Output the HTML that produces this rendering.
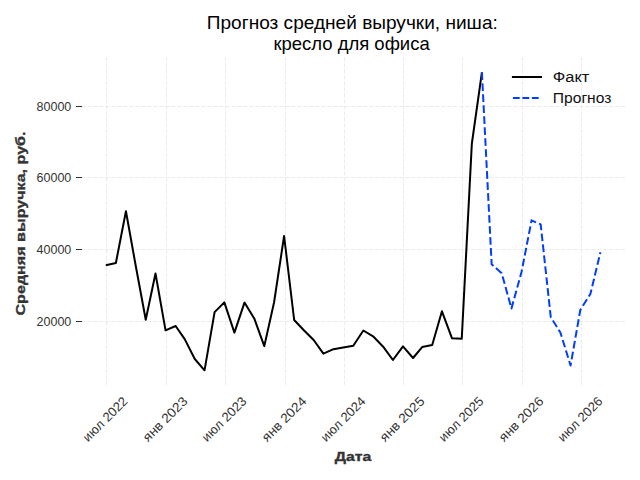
<!DOCTYPE html>
<html><head><meta charset="utf-8"><style>
html,body{margin:0;padding:0;background:#fff;}
svg{display:block;}
text{font-family:"Liberation Sans", sans-serif;}
</style></head><body>
<svg width="640" height="480" viewBox="0 0 640 480">
<rect width="640" height="480" fill="#fff"/>
<g stroke="#e4e4e4" stroke-width="0.75" stroke-dasharray="4 2" fill="none">
<line x1="106.5" y1="57.3" x2="106.5" y2="385.2"/>
<line x1="166.5" y1="57.3" x2="166.5" y2="385.2"/>
<line x1="225.5" y1="57.3" x2="225.5" y2="385.2"/>
<line x1="285.5" y1="57.3" x2="285.5" y2="385.2"/>
<line x1="344.5" y1="57.3" x2="344.5" y2="385.2"/>
<line x1="403.5" y1="57.3" x2="403.5" y2="385.2"/>
<line x1="462.5" y1="57.3" x2="462.5" y2="385.2"/>
<line x1="522.5" y1="57.3" x2="522.5" y2="385.2"/>
<line x1="581.5" y1="57.3" x2="581.5" y2="385.2"/>
<line x1="81.3" y1="106.5" x2="625.1" y2="106.5"/>
<line x1="81.3" y1="177.5" x2="625.1" y2="177.5"/>
<line x1="81.3" y1="249.5" x2="625.1" y2="249.5"/>
<line x1="81.3" y1="321.5" x2="625.1" y2="321.5"/>
</g>
<g fill="#333" font-size="12">
<line x1="76" y1="106.5" x2="82" y2="106.5" stroke="#333" stroke-width="1"/>
<text x="71.3" y="110.50" text-anchor="end" textLength="34.7" lengthAdjust="spacingAndGlyphs">80000</text>
<line x1="76" y1="177.5" x2="82" y2="177.5" stroke="#333" stroke-width="1"/>
<text x="71.3" y="181.50" text-anchor="end" textLength="34.7" lengthAdjust="spacingAndGlyphs">60000</text>
<line x1="76" y1="249.5" x2="82" y2="249.5" stroke="#333" stroke-width="1"/>
<text x="71.3" y="253.50" text-anchor="end" textLength="34.7" lengthAdjust="spacingAndGlyphs">40000</text>
<line x1="76" y1="321.5" x2="82" y2="321.5" stroke="#333" stroke-width="1"/>
<text x="71.3" y="325.50" text-anchor="end" textLength="34.7" lengthAdjust="spacingAndGlyphs">20000</text>
</g>
<g fill="#333" font-size="13">
<text transform="translate(105.20,419.20) rotate(-45)" x="0" y="4.3" text-anchor="middle" textLength="57" lengthAdjust="spacingAndGlyphs">июл 2022</text>
<text transform="translate(165.20,419.20) rotate(-45)" x="0" y="4.3" text-anchor="middle" textLength="57" lengthAdjust="spacingAndGlyphs">янв 2023</text>
<text transform="translate(224.20,419.20) rotate(-45)" x="0" y="4.3" text-anchor="middle" textLength="57" lengthAdjust="spacingAndGlyphs">июл 2023</text>
<text transform="translate(284.20,419.20) rotate(-45)" x="0" y="4.3" text-anchor="middle" textLength="57" lengthAdjust="spacingAndGlyphs">янв 2024</text>
<text transform="translate(343.20,419.20) rotate(-45)" x="0" y="4.3" text-anchor="middle" textLength="57" lengthAdjust="spacingAndGlyphs">июл 2024</text>
<text transform="translate(402.20,419.20) rotate(-45)" x="0" y="4.3" text-anchor="middle" textLength="57" lengthAdjust="spacingAndGlyphs">янв 2025</text>
<text transform="translate(461.20,419.20) rotate(-45)" x="0" y="4.3" text-anchor="middle" textLength="57" lengthAdjust="spacingAndGlyphs">июл 2025</text>
<text transform="translate(521.20,419.20) rotate(-45)" x="0" y="4.3" text-anchor="middle" textLength="57" lengthAdjust="spacingAndGlyphs">янв 2026</text>
<text transform="translate(580.20,419.20) rotate(-45)" x="0" y="4.3" text-anchor="middle" textLength="57" lengthAdjust="spacingAndGlyphs">июл 2026</text>
</g>
<path d="M105.80,265.30 L115.87,263.00 L125.94,211.30 L135.68,265.50 L145.75,319.70 L155.49,273.50 L165.56,330.30 L175.63,326.00 L184.72,339.10 L194.79,359.00 L204.53,370.30 L214.60,312.10 L224.34,302.40 L234.41,332.60 L244.48,302.60 L254.22,318.40 L264.29,346.10 L274.04,302.50 L284.10,236.00 L294.17,320.00 L303.59,330.00 L313.66,340.00 L323.40,353.70 L333.47,349.20 L343.21,347.50 L353.28,345.70 L363.35,330.50 L373.09,336.30 L383.16,346.70 L392.91,360.00 L402.97,346.30 L413.04,358.00 L422.14,347.10 L432.20,345.00 L441.95,311.30 L452.02,338.30 L461.76,338.80 L471.83,143.75 L481.90,72.30" fill="none" stroke="#000" stroke-width="2" stroke-linejoin="round" stroke-linecap="butt"/>
<path d="M481.90,72.30 L491.64,264.30 L501.71,273.20 L511.45,308.50 L521.52,272.00 L531.59,220.30 L540.68,224.40 L550.75,317.00 L560.49,332.80 L570.56,365.50 L580.30,310.00 L590.37,294.00 L600.44,252.30" fill="none" stroke="#003DFD" stroke-width="2" stroke-dasharray="7.7 3.3" stroke-linejoin="round" stroke-linecap="butt"/>
<g font-size="18.5" fill="#000" text-anchor="start">
<text x="206.8" y="28.75" textLength="291" lengthAdjust="spacingAndGlyphs">Прогноз средней выручки, ниша:</text>
<text x="273.4" y="49.75" textLength="156.3" lengthAdjust="spacingAndGlyphs">кресло для офиса</text>
</g>
<g font-size="12.5" fill="#333" font-weight="bold" stroke="#333" stroke-width="0.35">
<text x="334.75" y="461.25" textLength="36.5" lengthAdjust="spacingAndGlyphs">Дата</text>
<text transform="translate(24.6,315.5) rotate(-90)" x="0" y="0" font-size="13.5" textLength="184" lengthAdjust="spacingAndGlyphs">Средняя выручка, руб.</text>
</g>
<line x1="511.9" y1="77" x2="542" y2="77" stroke="#000" stroke-width="2"/>
<line x1="512.9" y1="98" x2="539" y2="98" stroke="#003DFD" stroke-width="2" stroke-dasharray="6.8 2.7"/>
<g font-size="14" fill="#111">
<text x="552.8" y="81.7" textLength="36.6" lengthAdjust="spacingAndGlyphs">Факт</text>
<text x="552.8" y="102.75" textLength="58.6" lengthAdjust="spacingAndGlyphs">Прогноз</text>
</g>
</svg>
</body></html>
